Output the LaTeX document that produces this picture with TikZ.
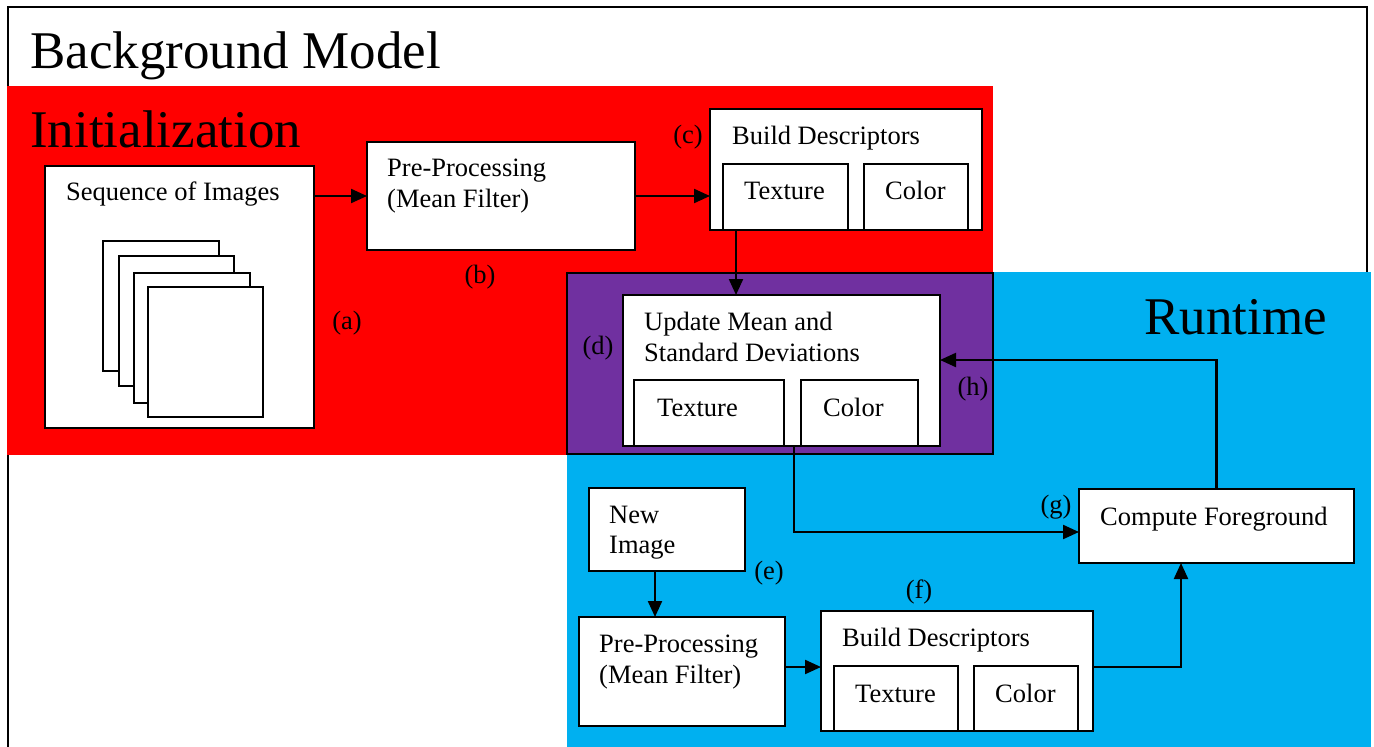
\documentclass[tikz,border=0pt]{standalone}
\usepackage{fontspec}
\setmainfont{Liberation Serif}
\usetikzlibrary{arrows.meta}

\definecolor{initred}{HTML}{FF0000}
\definecolor{bothpurple}{HTML}{7030A0}
\definecolor{runblue}{HTML}{00B0F0}

\tikzset{
  box/.style={draw=black, line width=2pt, fill=white, inner sep=0pt, outer sep=0pt,
              anchor=north west, rectangle},
  txt/.style={inner sep=0pt, anchor=base west, font=\fontsize{26.5}{30}\selectfont},
  lbl/.style={inner sep=0pt, anchor=center, font=\fontsize{26.5}{30}\selectfont},
  headline/.style={inner sep=0pt, anchor=base west, font=\fontsize{53}{60}\selectfont},
  flow/.style={draw=black, line width=2.2pt, -{Triangle[length=16pt,width=14pt]}},
}

\begin{document}
\begin{tikzpicture}[x=1pt,y=-1pt]
  \clip (0,0) rectangle (1374,747);
  \fill[white] (0,0) rectangle (1374,747);

  % outer frame of the background model
  \draw[line width=2pt] (8,7) rectangle (1367,800);

  % coloured regions
  \fill[initred] (7,86) rectangle (993,455);
  \fill[runblue] (567,272) rectangle (1371,800);
  \filldraw[fill=bothpurple, draw=black, line width=2pt] (567,273) rectangle (993,454);

  % region titles
  \node[headline] (tbg) at (30,68) {Background Model};
  \node[headline] (tinit) at (30,147) {Initialization};
  \node[headline] (trun) at (1144,334) {Runtime};

  % --- initialization ---
  \node[box, minimum width=269pt, minimum height=262pt] (seq) at (45,166) {};
  \node[txt] (seqt) at (66,200) {Sequence of Images};
  \node[box, minimum width=116pt, minimum height=130pt] (img1) at (103,241) {};
  \node[box, minimum width=115pt, minimum height=130pt] (img2) at (119,256) {};
  \node[box, minimum width=116pt, minimum height=130pt] (img3) at (134,273) {};
  \node[box, minimum width=115pt, minimum height=130pt] (img4) at (148,287) {};
  \node[lbl] (la) at (347,323) {(a)};

  \node[box, minimum width=268pt, minimum height=108pt] (pre1) at (367,142) {};
  \node[txt] (pre1a) at (387,176) {Pre-Processing};
  \node[txt] (pre1b) at (387,207) {(Mean Filter)};
  \node[lbl] (lb) at (480,277) {(b)};

  \node[box, minimum width=272pt, minimum height=121pt] (bd1) at (710,109) {};
  \node[txt] (bd1t) at (732,144) {Build Descriptors};
  \node[box, minimum width=125pt, minimum height=66pt] (bd1tex) at (723,164) {};
  \node[box, minimum width=104pt, minimum height=66pt] (bd1col) at (864,164) {};
  \node[txt] (bd1text) at (744,199) {Texture};
  \node[txt] (bd1colt) at (885,199) {Color};
  \node[lbl] (lc) at (688,137) {(c)};

  % --- shared update ---
  \node[box, minimum width=317pt, minimum height=151pt] (upd) at (623,295) {};
  \node[txt] (upda) at (644,330) {Update Mean and};
  \node[txt] (updb) at (644,361) {Standard Deviations};
  \node[box, minimum width=150pt, minimum height=66pt] (updtex) at (634,380) {};
  \node[box, minimum width=117pt, minimum height=66pt] (updcol) at (801,380) {};
  \node[txt] (updtext) at (657,416) {Texture};
  \node[txt] (updcolt) at (823,416) {Color};
  \node[lbl] (ld) at (598,348) {(d)};
  \node[lbl] (lh) at (973,389) {(h)};

  % --- runtime ---
  \node[box, minimum width=156pt, minimum height=83pt] (newimg) at (589,488) {};
  \node[txt] (newa) at (609,523) {New};
  \node[txt] (newb) at (609,553) {Image};
  \node[lbl] (le) at (769,573) {(e)};

  \node[box, minimum width=206pt, minimum height=109pt] (pre2) at (579,617) {};
  \node[txt] (pre2a) at (599,652) {Pre-Processing};
  \node[txt] (pre2b) at (599,683) {(Mean Filter)};

  \node[box, minimum width=272pt, minimum height=120pt] (bd2) at (821,611) {};
  \node[txt] (bd2t) at (842,646) {Build Descriptors};
  \node[box, minimum width=124pt, minimum height=65pt] (bd2tex) at (834,666) {};
  \node[box, minimum width=104pt, minimum height=65pt] (bd2col) at (974,666) {};
  \node[txt] (bd2text) at (855,702) {Texture};
  \node[txt] (bd2colt) at (995,702) {Color};
  \node[lbl] (lf) at (919,592) {(f)};

  \node[box, minimum width=275pt, minimum height=74pt] (cf) at (1079,489) {};
  \node[txt] (cft) at (1100,525) {Compute Foreground};
  \node[lbl] (lg) at (1056,507) {(g)};

  % --- connectors ---
  \draw[flow] (pre1.west -| seq.east) -- (pre1.west);
  \draw[flow] (pre1.east) -- (pre1.east -| bd1.west);
  \draw[flow] ([xshift=13pt]bd1tex.south west) -- ([xshift=13pt]bd1tex.south west |- upd.north);
  \draw[flow] (cf.north) |- ([yshift=10.5pt]upd.east);
  \draw[flow] ([xshift=171pt]upd.south west) |- ([yshift=-6pt]cf.west);
  \draw[flow] ([xshift=66pt]newimg.south west) -- ([xshift=66pt]newimg.south west |- pre2.north);
  \draw[flow] ([yshift=4.5pt]pre2.east) -- ([yshift=4.5pt]pre2.east -| bd2.west);
  \draw[flow] ([yshift=4pt]bd2.east) -| ([xshift=-35.5pt]cf.south);
\end{tikzpicture}
\end{document}
